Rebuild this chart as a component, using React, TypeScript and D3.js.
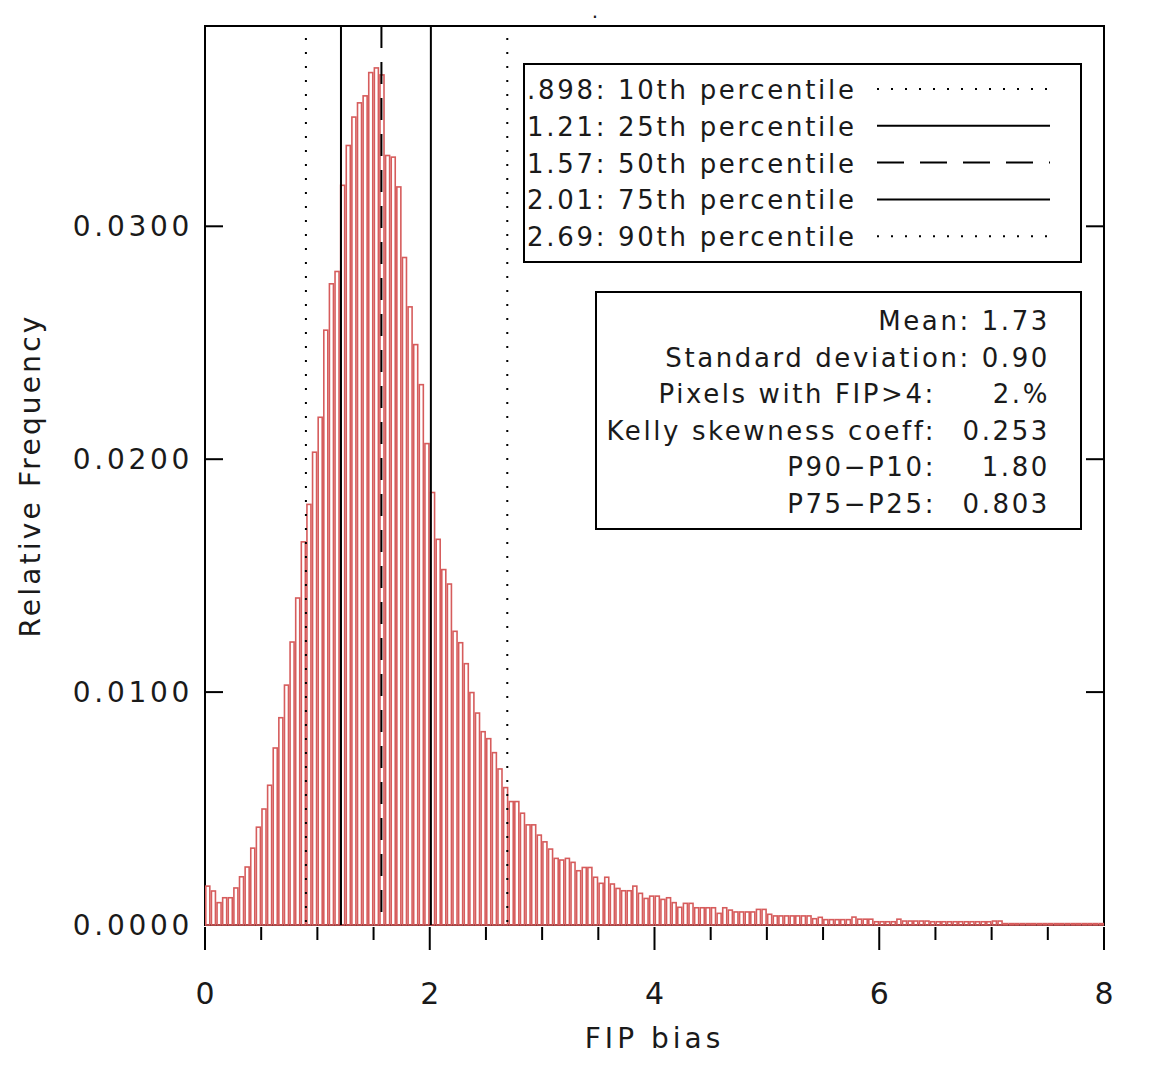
import React from 'react';
import { scaleLinear, range } from 'd3';

// histogram of FIP bias, bin width 0.05, from 0 to 8
const binWidth = 0.05;
const freqs = [
  0.00167, 0.00146, 0.00096, 0.00117, 0.00117, 0.00159, 0.00207, 0.00249, 0.0033, 0.0042,
  0.00498, 0.006, 0.0076, 0.0089, 0.0103, 0.01215, 0.01404, 0.01645, 0.01806, 0.0203,
  0.0218, 0.02554, 0.02753, 0.02806, 0.03176, 0.03347, 0.03469, 0.0353, 0.0356, 0.0366,
  0.0368, 0.0365, 0.03304, 0.03297, 0.03169, 0.02866, 0.02654, 0.02492, 0.0232, 0.02067,
  0.01857, 0.01656, 0.01526, 0.01464, 0.01261, 0.01212, 0.01122, 0.00998, 0.0091, 0.0083,
  0.008, 0.0074, 0.0067, 0.0059, 0.0053, 0.0053, 0.0048, 0.0043, 0.0043, 0.00386,
  0.00357, 0.00326, 0.00286, 0.00279, 0.00286, 0.00269, 0.00233, 0.00247, 0.00247, 0.00205,
  0.00179, 0.00205, 0.00176, 0.00157, 0.00147, 0.00147, 0.00167, 0.00136, 0.00114, 0.00124,
  0.00124, 0.0011, 0.00117, 0.00096, 0.00076, 0.00093, 0.00093, 0.00074, 0.00074, 0.00074,
  0.00074, 0.0005, 0.00074, 0.00064, 0.00056, 0.00056, 0.00056, 0.00056, 0.00067, 0.00067,
  0.00046, 0.00039, 0.00039, 0.00039, 0.00039, 0.00039, 0.00039, 0.00039, 0.00027, 0.00033,
  0.00023, 0.00023, 0.00023, 0.00023, 0.00023, 0.00034, 0.00025, 0.00025, 0.00025, 0.00014,
  0.00014, 0.00014, 0.00014, 0.00025, 0.00017, 0.00017, 0.00017, 0.00017, 0.00017, 0.00014,
  0.00014, 0.00014, 0.00014, 0.00014, 0.00014, 0.00014, 0.00014, 0.00014, 0.00014, 0.00014,
  0.00017, 0.00017, 0.00006, 0.00006, 0.00006, 0.00006, 0.00006, 0.00006, 0.00006, 0.00006,
  0.00006, 0.00006, 0.00006, 0.00006, 0.00006, 0.00006, 0.00006, 0.00006, 0.00006, 0.00006,
];

const pctValues = [0.898, 1.21, 1.57, 2.01, 2.69];
const pctLabels = ['.898', '1.21', '1.57', '2.01', '2.69'];
const pctNames = ['10th', '25th', '50th', '75th', '90th'];
const pctDash = ['2,12', null, '22,14', null, '2,12'];

const statLabels = ['Mean: 1.73', 'Standard deviation: 0.90', 'Pixels with FIP>4:', 'Kelly skewness coeff:', 'P90\u2212P10:', 'P75\u2212P25:'];
const statValues = [null, null, '2.%', '0.253', '1.80', '0.803'];

const xTicks = [0, 2, 4, 6, 8];
const xMinor = range(0, 8.01, 0.5);
const yTicks = [0, 0.01, 0.02, 0.03];

const W = 1153;
const H = 1067;
const font = '"DejaVu Sans", sans-serif';
const barColor = '#d65c5c';
const ink = '#1a1a1a';

export default function App() {
  const x = scaleLinear().domain([0, 8]).range([205, 1104]);
  const y = scaleLinear().domain([0, 0.0386]).range([925, 26]);
  const [x0, x1] = x.range();
  const [yb, yt] = y.range();
  const bw = x(binWidth) - x(0);

  return (
    <svg width={W} height={H} style={{ position: 'absolute', left: 0, top: 0, background: '#fff' }}>
      {/* frame */}
      <rect x={x0} y={yt} width={x1 - x0} height={yb - yt} fill="none" stroke="#000" strokeWidth={2} />

      {/* axes ticks (drawn under the bars) */}
      <g stroke="#000" strokeWidth={2}>
        {yTicks.map(t => (
          <g key={t}>
            <line x1={x0} x2={x0 + 18} y1={y(t)} y2={y(t)} />
            <line x1={x1 - 18} x2={x1} y1={y(t)} y2={y(t)} />
          </g>
        ))}
        {xMinor.map(t => (
          <line key={t} x1={x(t)} x2={x(t)} y1={yb + 2} y2={yb + (t % 2 === 0 ? 25 : 15)} />
        ))}
      </g>

      {/* bars */}
      <g fill="none" stroke={barColor} strokeWidth={1.6}>
        {freqs.map((f, i) => (
          <rect key={i} x={x(i * binWidth) + 0.8} y={y(f)} width={bw - 1.6} height={yb - y(f)} />
        ))}
      </g>

      {/* percentile lines */}
      <g stroke="#000">
        {pctValues.map((v, i) => (
          <line key={i} x1={x(v)} x2={x(v)} y1={pctDash[i] === '2,12' ? yt + 12 : yt} y2={yb}
            strokeWidth={2}
            strokeDasharray={pctDash[i] || undefined} />
        ))}
      </g>

      <g fontFamily={font} fontSize={28} fill={ink}>
        {yTicks.map(t => (
          <text key={t} x={x0 - 12} y={y(t) + 10} textAnchor="end" letterSpacing={3.7}>{t.toFixed(4)}</text>
        ))}
        {xTicks.map(t => (
          <text key={t} x={x(t)} y={1004} textAnchor="middle" fontSize={30}>{t}</text>
        ))}
        <text x={(x0 + x1) / 2} y={1048} textAnchor="middle" letterSpacing={4}>FIP bias</text>
        <text transform={`translate(40,${(yt + yb) / 2}) rotate(-90)`} textAnchor="middle" letterSpacing={3.2}>Relative Frequency</text>
        <text x={595} y={18} textAnchor="middle" fontSize={20}>.</text>
      </g>

      {/* percentile legend */}
      <rect x={524} y={64} width={557} height={198} fill="#fff" stroke="#000" strokeWidth={2} />
      <g fontFamily={font} fontSize={26} fill={ink} letterSpacing={2.7}>
        {pctValues.map((v, i) => {
          const cy = 89 + i * 36.8;
          return (
            <g key={i}>
              <text x={527} y={cy + 10}>{`${pctLabels[i]}: ${pctNames[i]} percentile`}</text>
              <line x1={877} x2={1050} y1={cy} y2={cy} stroke="#000" strokeWidth={2}
                strokeDasharray={pctDash[i] === '2,12' ? '2,12' : pctDash[i] ? '27,16' : undefined} />
            </g>
          );
        })}
      </g>

      {/* stats box */}
      <rect x={596} y={292} width={485} height={237} fill="#fff" stroke="#000" strokeWidth={2} />
      <g fontFamily={font} fontSize={26} fill={ink} letterSpacing={2.6}>
        {statLabels.map((s, i) => {
          const cy = 320 + i * 36.5;
          return statValues[i] === null ? (
            <text key={i} x={1050} y={cy + 10} textAnchor="end">{s}</text>
          ) : (
            <g key={i}>
              <text x={936} y={cy + 10} textAnchor="end">{s}</text>
              <text x={1050} y={cy + 10} textAnchor="end">{statValues[i]}</text>
            </g>
          );
        })}
      </g>
    </svg>
  );
}
